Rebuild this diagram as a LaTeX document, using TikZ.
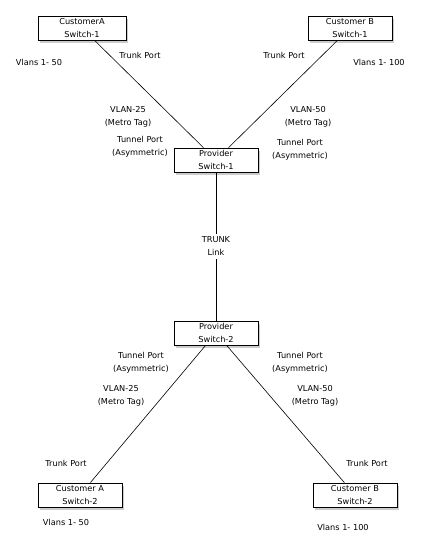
\documentclass[tikz,border=0pt]{standalone}
\usepackage{fontspec}
\setmainfont{DejaVu Sans}
\usepackage{tikz}
\usetikzlibrary{shadows}

\begin{document}
\begin{tikzpicture}[
    x=1pt, y=-1pt,
    font=\fontsize{8.2}{13}\selectfont,
    switch/.style={draw, fill=white, align=center, minimum width=84pt,
        minimum height=24pt, inner sep=1pt, line width=0.8pt,
        drop shadow={shadow xshift=1.5pt, shadow yshift=-3pt, opacity=0.5, fill=gray!80}},
    lbl/.style={align=center, inner sep=0pt}
]
\useasboundingbox (0,0) rectangle (421,547);

% switches
\node[switch, minimum width=88pt] (custA1) at (82,28) {CustomerA\\Switch-1};
\node[switch] (custB1) at (350,28) {Customer B\\Switch-1};
\node[switch] (prov1) at (216,160) {Provider\\Switch-1};
\node[switch] (prov2) at (216,333) {Provider\\Switch-2};
\node[switch] (custA2) at (80,495) {Customer A\\Switch-2};
\node[switch] (custB2) at (355,495) {Customer B\\Switch-2};

% links
\draw[line width=0.6pt] (custA1) -- (prov1);
\draw[line width=0.6pt] (custB1) -- (prov1);
\draw[line width=0.6pt] (prov1) -- node[lbl, fill=white, inner sep=3pt] (trunk) {TRUNK\\Link} (prov2);
\draw[line width=0.6pt] (prov2) -- (custA2);
\draw[line width=0.6pt] (prov2) -- (custB2);

% labels, upper half
\node[lbl] (vlansA1) at (39,62) {Vlans 1- 50};
\node[lbl] (trunkA1) at (140,55) {Trunk Port};
\node[lbl] (trunkB1) at (284,55) {Trunk Port};
\node[lbl] (vlansB1) at (379,62) {Vlans 1- 100};
\node[lbl] (tagA1) at (128,117) {VLAN-25\\(Metro Tag)};
\node[lbl] (tagB1) at (308,117) {VLAN-50\\(Metro Tag)};
\node[lbl] (tunA1) at (140,147) {Tunnel Port\\(Asymmetric)};
\node[lbl] (tunB1) at (300,150) {Tunnel Port\\(Asymmetric)};

% labels, lower half
\node[lbl] (tunA2) at (141,363) {Tunnel Port\\(Asymmetric)};
\node[lbl] (tunB2) at (300,363) {Tunnel Port\\(Asymmetric)};
\node[lbl] (tagA2) at (121,396) {VLAN-25\\(Metro Tag)};
\node[lbl] (tagB2) at (315,396) {VLAN-50\\(Metro Tag)};
\node[lbl] (trunkA2) at (66,463) {Trunk Port};
\node[lbl] (trunkB2) at (367,463) {Trunk Port};
\node[lbl] (vlansA2) at (66,522) {Vlans 1- 50};
\node[lbl] (vlansB2) at (343,527) {Vlans 1- 100};
\end{tikzpicture}
\end{document}
